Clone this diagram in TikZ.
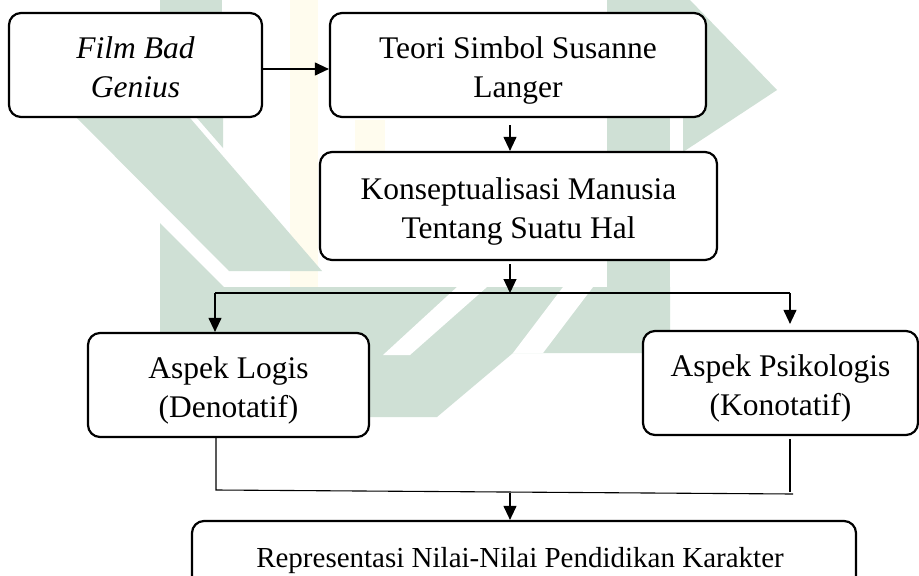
\documentclass[tikz,border=0pt]{standalone}
\usepackage{fontspec}
\setmainfont{Liberation Serif}
\usetikzlibrary{arrows.meta,calc}
\definecolor{wmgreen}{RGB}{207,224,213}
\definecolor{wmyellow}{RGB}{255,252,238}
\tikzset{
  box/.style={draw=black, line width=2.2pt, rounded corners=12pt, fill=white,
    align=center, inner sep=0pt, font=\fontsize{31.5}{39}\selectfont,
    text height=64pt, text depth=0pt},
  conn/.style={draw=black, line width=1.1pt},
  arr/.style={conn, -{Triangle[length=14pt,width=13pt]}},
  wm/.style={fill=wmgreen, draw=none},
  wmy/.style={fill=wmyellow, draw=none}
}
\begin{document}
\begin{tikzpicture}[x=1pt,y=-1pt]
\useasboundingbox (0,0) rectangle (919,576);
\clip (0,0) rectangle (919,576);
\fill[white] (0,0) rectangle (919,576);
% watermark
\fill[wmy] (290,0) rectangle (318,300);
\fill[wmy] (355,120) rectangle (385,152);
\fill[wm] (160,0) rectangle (222,14);
\fill[wm] (77,118) -- (190,118) -- (322,271) -- (229,271) -- cycle;
\fill[wm] (197,118) -- (223,118) -- (223,148) -- cycle;
\fill[wm] (160,223) -- (224,287) -- (670,287) -- (670,353) -- (513,353) -- (437,417) -- (160,417) -- cycle;
\fill[white] (457,287) -- (487,287) -- (410,355) -- (383,355) -- cycle;
\fill[white] (563,287) -- (593,287) -- (543,353) -- (513,353) -- cycle;
\fill[wm] (607,0) rectangle (670,287);
\fill[wm] (670,0) -- (690,0) -- (777,90) -- (683,152) -- (683,117) -- (670,117) -- cycle;
% boxes
\node[box, minimum width=253pt, minimum height=104pt] (A) at (135.5,65) {\itshape Film Bad\\\itshape Genius};
\node[box, minimum width=376pt, minimum height=104pt] (B) at (518,65) {Teori Simbol Susanne\\Langer};
\node[box, minimum width=397pt, minimum height=108pt] (C) at (518.5,206) {Konseptualisasi Manusia\\Tentang Suatu Hal};
\node[box, minimum width=281pt, minimum height=104pt] (D) at (228.5,385) {Aspek Logis\\(Denotatif)};
\node[box, minimum width=275pt, minimum height=104pt] (E) at (780.5,383) {Aspek Psikologis\\(Konotatif)};
\node[box, minimum width=664pt, minimum height=78pt, font=\fontsize{29}{36}\selectfont, text height=20pt, text depth=6pt] (F) at (524,560) {Representasi Nilai-Nilai Pendidikan Karakter\hspace*{8pt}};
% connectors
\coordinate (j1) at (510,293);
\coordinate (jl) at (215,293);
\coordinate (jr) at (790,293);
\coordinate (kl) at (216,490);
\coordinate (kr) at (793,494);
\coordinate (ke) at (790,492);
\coordinate (k3) at (510,493);
\draw[arr] ([yshift=-4pt]A.east) -- ([yshift=-4pt]B.west);
\draw[arr, shorten <=7pt] ([xshift=-8pt]B.south) -- ([xshift=-8.5pt]C.north);
\draw[arr, shorten <=3pt] ([xshift=-8.5pt]C.south) -- (j1);
\draw[conn] (jl) -- (jr);
\draw[arr] (jl) -- (D.north -| jl);
\draw[arr, shorten >=6pt] (jr) -- (E.north -| jr);
\draw[conn] (D.south -| kl) -- (kl) -- (kr);
\draw[conn, shorten <=3pt] (E.south -| ke) -- (ke);
\draw[arr] (k3) -- (F.north -| k3);
\end{tikzpicture}
\end{document}
